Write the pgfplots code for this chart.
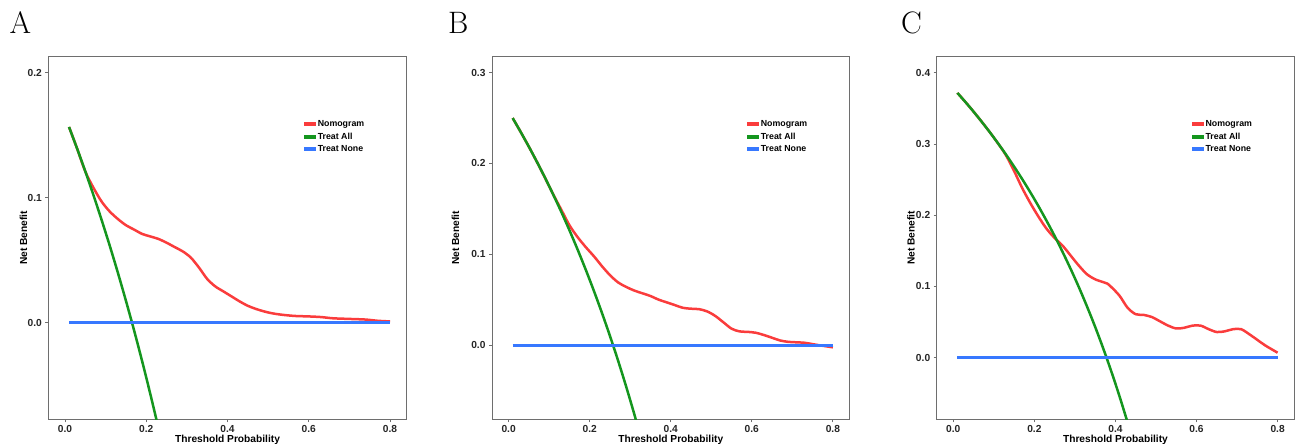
\documentclass[border=0pt]{standalone}
\usepackage{fontspec}
\setsansfont{Liberation Sans}
\usepackage{pgfplots}
\pgfplotsset{compat=1.18}

\definecolor{nomo}{RGB}{250,60,60}
\definecolor{tall}{RGB}{20,150,30}
\definecolor{tnone}{RGB}{55,120,255}
\definecolor{frame}{RGB}{110,110,110}

\pgfplotsset{
  dca/.style={
    scale only axis,
    width=357.5pt, height=362.6pt,
    anchor=south west,
    xmin=-0.041, xmax=0.841,
    xtick={0,0.2,0.4,0.6,0.8},
    axis line style={frame, line width=0.8pt},
    tick style={frame, line width=0.8pt},
    tick align=outside, major tick length=3pt,
    xtick pos=bottom, ytick pos=left,
    tick label style={font=\fontsize{10.2}{12}\sffamily\bfseries, text=black!85},
    /pgf/number format/.cd, fixed, fixed zerofill, precision=1, assume math mode=true,
    /pgfplots/.cd,
    xlabel={Threshold Probability}, ylabel={Net Benefit},
    label style={font=\fontsize{10.2}{12}\sffamily\bfseries},
    xlabel style={yshift=5pt},
    ylabel style={yshift=-6.5pt},
    legend style={at={(0.705,0.8345)}, anchor=north west, draw=none, fill=none,
      font=\fontsize{8.8}{10}\sffamily\bfseries, row sep=1.6pt,
      nodes={inner sep=1.6pt}},
    legend cell align=left,
    clip=true,
  },
  nomoline/.style={color=nomo, line width=2.5pt, smooth, tension=0.5},
  allline/.style={color=tall, line width=2.5pt, smooth},
  noneline/.style={color=tnone, line width=3pt},
  legnomo/.style={legend image code/.code={\fill[nomo] (0pt,-0.6pt) rectangle (9pt,0.6pt);}},
  legall/.style={legend image code/.code={\fill[tall] (0pt,-0.6pt) rectangle (9pt,0.6pt);}},
  legnone/.style={legend image code/.code={\fill[tnone] (0pt,-0.6pt) rectangle (9pt,0.6pt);}},
}

\begin{document}
\begin{tikzpicture}
\path[use as bounding box] (0pt,0pt) rectangle (1296pt,444pt);

% panel letters
\node[anchor=base west, inner sep=0pt, font=\fontsize{31}{32}\selectfont] at (9.5pt,410pt) {A};
\node[anchor=base west, inner sep=0pt, font=\fontsize{31}{32}\selectfont] at (448pt,410pt) {B};
\node[anchor=base west, inner sep=0pt, font=\fontsize{31}{32}\selectfont] at (901pt,410pt) {C};

% ---------- A ----------
\begin{axis}[dca, at={(48.3pt,24.7pt)}, width=358.4pt, ymin=-0.0773, ymax=0.2128, ytick={0,0.1,0.2}]
\addplot[nomoline, legnomo] coordinates {(0.01,0.1566) (0.03,0.1392) (0.05,0.121) (0.07,0.108) (0.09,0.097)
 (0.11,0.089) (0.13,0.083) (0.15,0.078) (0.17,0.0745) (0.19,0.071) (0.21,0.069) (0.23,0.067)
 (0.25,0.064) (0.27,0.0605) (0.29,0.057) (0.31,0.052) (0.33,0.044) (0.35,0.035) (0.37,0.029)
 (0.39,0.025) (0.41,0.021) (0.43,0.017) (0.45,0.0135) (0.47,0.011) (0.49,0.009) (0.51,0.0075)
 (0.53,0.0065) (0.55,0.0058) (0.57,0.0053) (0.60,0.005) (0.63,0.0045) (0.66,0.0035) (0.70,0.003)
 (0.74,0.0025) (0.77,0.0015) (0.80,0.001)};
\addlegendentry{Nomogram}
\addplot[allline, legall] coordinates {(0.01,0.1566) (0.03,0.1392) (0.05,0.1211) (0.07,0.1022) (0.09,0.0824)
 (0.11,0.0618) (0.13,0.0402) (0.15,0.0176) (0.17,-0.0060) (0.19,-0.0309) (0.21,-0.0570)
 (0.23,-0.0844) (0.25,-0.1133)};
\addlegendentry{Treat All}
\addplot[noneline, legnone] coordinates {(0.01,0) (0.8,0)};
\addlegendentry{Treat None}
\end{axis}

% ---------- B ----------
\begin{axis}[dca, at={(492pt,24.7pt)}, ymin=-0.0818, ymax=0.3176, ytick={0,0.1,0.2,0.3},
  ylabel style={yshift=11.7pt}]
\addplot[nomoline, legnomo] coordinates {(0.01,0.25) (0.03,0.2345) (0.05,0.2184) (0.07,0.2016) (0.09,0.184)
 (0.11,0.166) (0.13,0.149) (0.15,0.132) (0.17,0.119) (0.19,0.108) (0.21,0.098) (0.23,0.087)
 (0.25,0.077) (0.27,0.069) (0.29,0.064) (0.31,0.060) (0.33,0.057) (0.35,0.054) (0.37,0.050)
 (0.39,0.047) (0.41,0.044) (0.43,0.041) (0.45,0.040) (0.47,0.0395) (0.49,0.037) (0.51,0.032)
 (0.53,0.025) (0.55,0.018) (0.57,0.015) (0.59,0.0145) (0.61,0.0135) (0.63,0.011) (0.65,0.008)
 (0.67,0.005) (0.69,0.0035) (0.71,0.003) (0.73,0.0025) (0.75,0.001) (0.77,-0.0005) (0.80,-0.0025)};
\addlegendentry{Nomogram}
\addplot[allline, legall] coordinates {(0.01,0.2500) (0.03,0.2345) (0.05,0.2184) (0.07,0.2016) (0.09,0.1841)
 (0.11,0.1657) (0.13,0.1466) (0.15,0.1265) (0.17,0.1054) (0.19,0.0833) (0.21,0.0601)
 (0.23,0.0357) (0.25,0.0100) (0.27,-0.0171) (0.29,-0.0458) (0.31,-0.0761) (0.33,-0.1082)};
\addlegendentry{Treat All}
\addplot[noneline, legnone] coordinates {(0.01,0) (0.8,0)};
\addlegendentry{Treat None}
\end{axis}

% ---------- C ----------
\begin{axis}[dca, at={(936.7pt,24.7pt)}, ymin=-0.0865, ymax=0.4225, ytick={0,0.1,0.2,0.3,0.4},
  ylabel style={yshift=1pt}]
\addplot[nomoline, legnomo] coordinates {(0.01,0.3717) (0.03,0.3588) (0.05,0.3453) (0.07,0.3312) (0.09,0.3165)
 (0.11,0.301) (0.13,0.284) (0.15,0.262) (0.17,0.238) (0.19,0.217) (0.21,0.198) (0.23,0.181)
 (0.25,0.168) (0.27,0.157) (0.29,0.143) (0.31,0.129) (0.33,0.117) (0.35,0.110) (0.37,0.106)
 (0.38,0.104) (0.39,0.099) (0.41,0.087) (0.43,0.070) (0.45,0.061) (0.47,0.060) (0.49,0.057)
 (0.51,0.051) (0.53,0.045) (0.55,0.041) (0.57,0.042) (0.59,0.045) (0.61,0.045) (0.63,0.040)
 (0.65,0.036) (0.67,0.037) (0.69,0.040) (0.71,0.040) (0.73,0.033) (0.75,0.025) (0.77,0.017)
 (0.80,0.007)};
\addlegendentry{Nomogram}
\addplot[allline, legall] coordinates {(0.01,0.3717) (0.03,0.3588) (0.05,0.3453) (0.07,0.3312) (0.09,0.3165)
 (0.11,0.3011) (0.13,0.2851) (0.15,0.2682) (0.17,0.2506) (0.19,0.2321) (0.21,0.2127)
 (0.23,0.1922) (0.25,0.1707) (0.27,0.1479) (0.29,0.1239) (0.31,0.0986) (0.33,0.0716)
 (0.35,0.0431) (0.37,0.0127) (0.39,-0.0197) (0.41,-0.0542) (0.43,-0.0912) (0.45,-0.1300)};
\addlegendentry{Treat All}
\addplot[noneline, legnone] coordinates {(0.01,0) (0.8,0)};
\addlegendentry{Treat None}
\end{axis}
\end{tikzpicture}
\end{document}
